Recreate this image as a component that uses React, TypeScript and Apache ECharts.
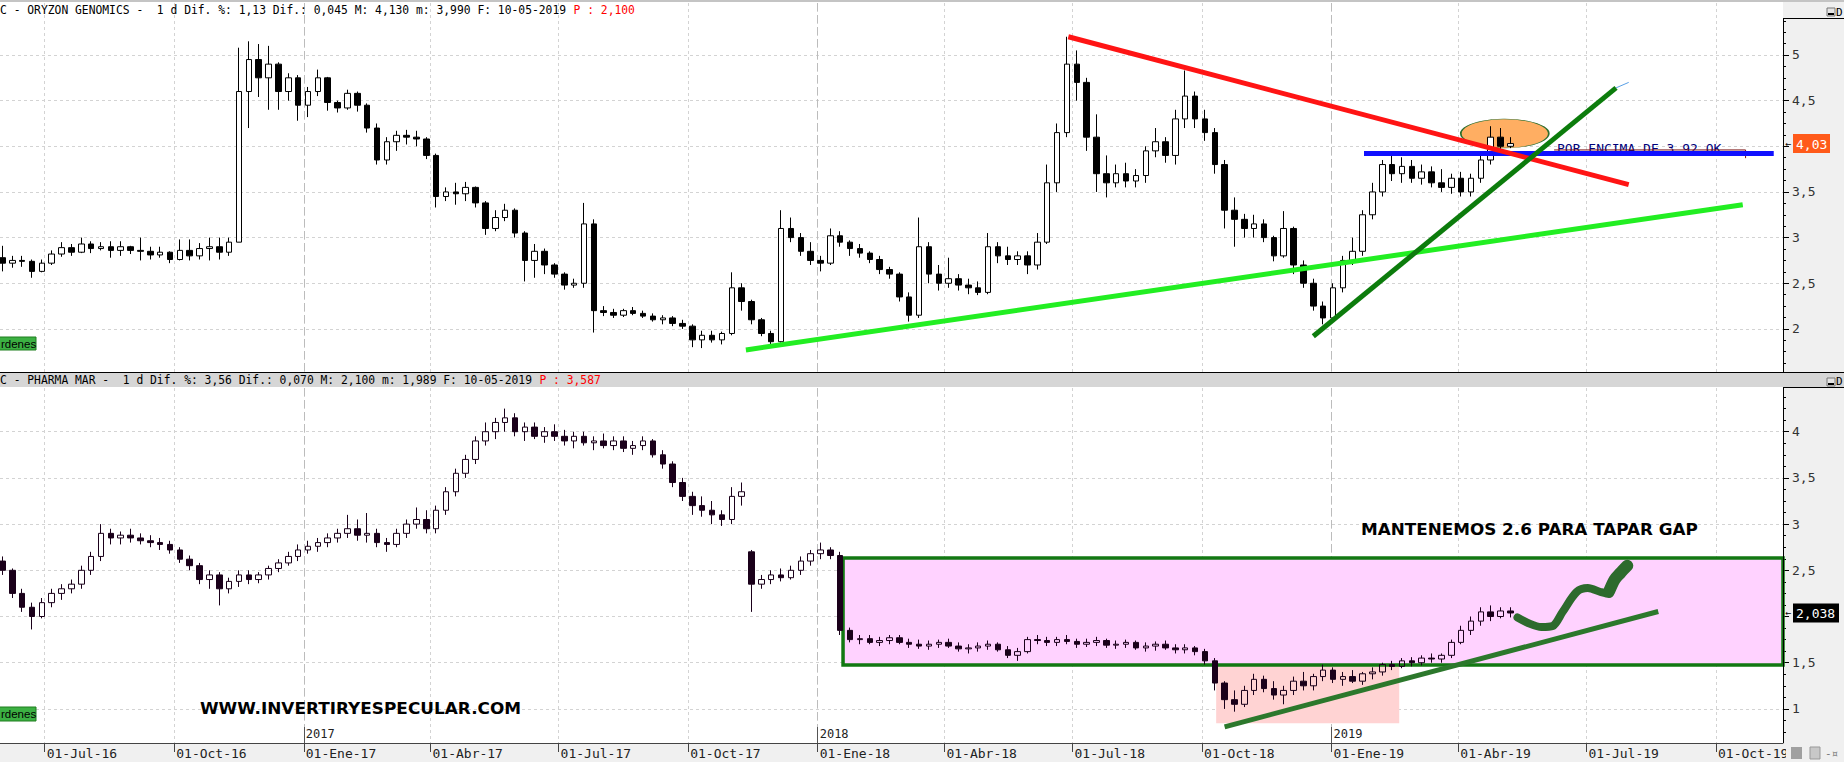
import React, { useEffect, useRef } from "react";
import * as echarts from "echarts";

// ---------------- data ----------------
// weekly candles, first one on Wednesday 2016-06-01, one per week
const WEEK_START = [2016, 6, 1];

// ORYZON GENOMICS weekly [open, high, low, close]
const ORYZON_OHLC: number[][] = [
  [2.78, 2.91, 2.63, 2.72], [2.72, 2.8, 2.67, 2.75], [2.75, 2.8, 2.68, 2.74], [2.74, 2.76, 2.56, 2.63],
  [2.63, 2.76, 2.62, 2.72], [2.72, 2.86, 2.7, 2.82], [2.82, 2.95, 2.79, 2.89], [2.89, 2.93, 2.8, 2.84],
  [2.84, 3.0, 2.83, 2.93], [2.93, 2.96, 2.83, 2.88], [2.88, 2.95, 2.86, 2.9], [2.9, 2.96, 2.78, 2.86],
  [2.86, 2.96, 2.8, 2.9], [2.9, 2.91, 2.82, 2.86], [2.86, 3.0, 2.75, 2.85], [2.85, 2.9, 2.76, 2.81],
  [2.81, 2.9, 2.78, 2.84], [2.84, 2.85, 2.72, 2.76], [2.76, 2.98, 2.75, 2.86], [2.86, 2.98, 2.75, 2.8],
  [2.8, 2.94, 2.76, 2.88], [2.88, 3.0, 2.75, 2.9], [2.9, 3.0, 2.76, 2.84], [2.84, 3.0, 2.8, 2.95],
  [2.95, 5.08, 2.95, 4.6], [4.6, 5.15, 4.2, 4.95], [4.95, 5.12, 4.54, 4.75], [4.75, 5.1, 4.4, 4.9],
  [4.9, 4.92, 4.4, 4.6], [4.6, 4.8, 4.5, 4.75], [4.75, 4.78, 4.28, 4.45], [4.45, 4.65, 4.32, 4.6],
  [4.6, 4.84, 4.55, 4.75], [4.75, 4.76, 4.39, 4.48], [4.48, 4.5, 4.37, 4.42], [4.42, 4.62, 4.4, 4.58],
  [4.58, 4.6, 4.38, 4.45], [4.45, 4.47, 4.15, 4.2], [4.2, 4.25, 3.8, 3.85], [3.85, 4.1, 3.8, 4.05],
  [4.05, 4.17, 3.95, 4.12], [4.12, 4.18, 4.02, 4.1], [4.1, 4.17, 4.0, 4.08], [4.08, 4.1, 3.86, 3.9],
  [3.9, 3.92, 3.33, 3.45], [3.45, 3.55, 3.4, 3.5], [3.5, 3.6, 3.36, 3.48], [3.48, 3.61, 3.4, 3.55],
  [3.55, 3.56, 3.33, 3.38], [3.38, 3.4, 3.03, 3.1], [3.1, 3.3, 3.07, 3.22], [3.22, 3.37, 3.18, 3.3],
  [3.3, 3.32, 3.0, 3.05], [3.05, 3.07, 2.52, 2.75], [2.75, 2.93, 2.56, 2.85], [2.85, 2.88, 2.6, 2.7],
  [2.7, 2.72, 2.56, 2.6], [2.6, 2.62, 2.43, 2.48], [2.48, 2.55, 2.45, 2.5], [2.5, 3.38, 2.45, 3.15],
  [3.15, 3.2, 1.96, 2.2], [2.2, 2.25, 2.14, 2.18], [2.18, 2.22, 2.12, 2.15], [2.15, 2.22, 2.13, 2.2],
  [2.2, 2.24, 2.15, 2.17], [2.17, 2.2, 2.12, 2.14], [2.14, 2.17, 2.08, 2.1], [2.1, 2.15, 2.05, 2.12],
  [2.12, 2.14, 2.03, 2.06], [2.06, 2.1, 2.0, 2.03], [2.03, 2.05, 1.8, 1.88], [1.88, 1.98, 1.79, 1.93],
  [1.93, 1.98, 1.85, 1.88], [1.88, 1.97, 1.83, 1.95], [1.95, 2.62, 1.93, 2.45], [2.45, 2.5, 2.2, 2.3],
  [2.3, 2.32, 2.05, 2.1], [2.1, 2.12, 1.92, 1.95], [1.95, 1.98, 1.83, 1.86], [1.86, 3.3, 1.85, 3.1],
  [3.1, 3.22, 2.95, 3.0], [3.0, 3.05, 2.8, 2.85], [2.85, 2.95, 2.7, 2.75], [2.75, 2.8, 2.63, 2.72],
  [2.72, 3.1, 2.7, 3.02], [3.02, 3.07, 2.9, 2.95], [2.95, 2.97, 2.8, 2.88], [2.88, 2.93, 2.78, 2.83],
  [2.83, 2.85, 2.72, 2.76], [2.76, 2.8, 2.6, 2.65], [2.65, 2.68, 2.55, 2.6], [2.6, 2.62, 2.3, 2.35],
  [2.35, 2.4, 2.08, 2.15], [2.15, 3.22, 2.12, 2.9], [2.9, 2.95, 2.5, 2.6], [2.6, 2.7, 2.42, 2.5],
  [2.5, 2.78, 2.45, 2.55], [2.55, 2.6, 2.42, 2.48], [2.48, 2.55, 2.38, 2.45], [2.45, 2.52, 2.37, 2.4],
  [2.4, 3.05, 2.38, 2.9], [2.9, 2.95, 2.72, 2.8], [2.8, 2.9, 2.7, 2.76], [2.76, 2.85, 2.7, 2.8],
  [2.8, 2.85, 2.6, 2.7], [2.7, 3.05, 2.65, 2.95], [2.95, 3.8, 2.93, 3.6], [3.6, 4.25, 3.5, 4.15],
  [4.15, 5.2, 4.1, 4.9], [4.9, 5.05, 4.5, 4.7], [4.7, 4.75, 3.95, 4.1], [4.1, 4.35, 3.5, 3.7],
  [3.7, 3.9, 3.44, 3.6], [3.6, 3.8, 3.55, 3.7], [3.7, 3.82, 3.55, 3.62], [3.62, 3.75, 3.55, 3.68],
  [3.68, 4.0, 3.6, 3.95], [3.95, 4.2, 3.88, 4.05], [4.05, 4.1, 3.82, 3.9], [3.9, 4.4, 3.8, 4.3],
  [4.3, 4.83, 4.2, 4.55], [4.55, 4.6, 4.2, 4.3], [4.3, 4.4, 4.06, 4.15], [4.15, 4.2, 3.7, 3.8],
  [3.8, 3.85, 3.1, 3.3], [3.3, 3.44, 2.9, 3.2], [3.2, 3.26, 3.0, 3.1], [3.1, 3.25, 3.0, 3.15],
  [3.15, 3.2, 2.95, 3.0], [3.0, 3.02, 2.74, 2.8], [2.8, 3.29, 2.78, 3.1], [3.1, 3.12, 2.6, 2.7],
  [2.7, 2.75, 2.45, 2.5], [2.5, 2.55, 2.2, 2.25], [2.25, 2.3, 2.05, 2.12], [2.12, 2.5, 2.1, 2.45],
  [2.45, 2.8, 2.4, 2.75], [2.75, 3.0, 2.7, 2.85], [2.85, 3.3, 2.8, 3.25], [3.25, 3.6, 3.2, 3.5],
  [3.5, 3.85, 3.45, 3.8], [3.8, 3.9, 3.62, 3.7], [3.7, 3.88, 3.6, 3.78], [3.78, 3.85, 3.6, 3.65],
  [3.65, 3.8, 3.58, 3.72], [3.72, 3.78, 3.55, 3.6], [3.6, 3.75, 3.5, 3.55], [3.55, 3.7, 3.48, 3.65],
  [3.65, 3.72, 3.45, 3.5], [3.5, 3.7, 3.45, 3.65], [3.65, 3.9, 3.6, 3.85], [3.85, 4.22, 3.8, 4.1],
  [4.1, 4.2, 3.95, 4.0], [4.0, 4.1, 3.98, 4.03],
];

// PHARMA MAR weekly [open, high, low, close]
const PHARMA_OHLC: number[][] = [
  [2.6, 2.65, 2.45, 2.5], [2.5, 2.52, 2.2, 2.25], [2.25, 2.3, 2.05, 2.1], [2.1, 2.15, 1.86, 2.0],
  [2.0, 2.2, 1.98, 2.15], [2.15, 2.3, 2.1, 2.25], [2.25, 2.35, 2.18, 2.3], [2.3, 2.4, 2.25, 2.35],
  [2.35, 2.55, 2.3, 2.5], [2.5, 2.7, 2.45, 2.65], [2.65, 3.0, 2.6, 2.9], [2.9, 2.95, 2.78, 2.85],
  [2.85, 2.92, 2.78, 2.88], [2.88, 2.95, 2.8, 2.85], [2.85, 2.9, 2.78, 2.82], [2.82, 2.88, 2.75, 2.8],
  [2.8, 2.85, 2.72, 2.78], [2.78, 2.82, 2.68, 2.72], [2.72, 2.75, 2.58, 2.62], [2.62, 2.66, 2.5, 2.55],
  [2.55, 2.58, 2.35, 2.4], [2.4, 2.5, 2.3, 2.45], [2.45, 2.48, 2.12, 2.3], [2.3, 2.42, 2.25, 2.38],
  [2.38, 2.5, 2.32, 2.45], [2.45, 2.5, 2.35, 2.4], [2.4, 2.48, 2.36, 2.45], [2.45, 2.55, 2.4, 2.52],
  [2.52, 2.62, 2.48, 2.58], [2.58, 2.7, 2.55, 2.65], [2.65, 2.78, 2.6, 2.72], [2.72, 2.82, 2.68, 2.76],
  [2.76, 2.85, 2.7, 2.8], [2.8, 2.9, 2.75, 2.85], [2.85, 2.95, 2.8, 2.9], [2.9, 3.1, 2.85, 2.95],
  [2.95, 3.05, 2.82, 2.88], [2.88, 3.12, 2.8, 2.9], [2.9, 2.95, 2.75, 2.8], [2.8, 2.85, 2.7, 2.78],
  [2.78, 2.95, 2.75, 2.9], [2.9, 3.05, 2.85, 3.0], [3.0, 3.18, 2.95, 3.05], [3.05, 3.15, 2.9, 2.95],
  [2.95, 3.2, 2.9, 3.15], [3.15, 3.4, 3.1, 3.35], [3.35, 3.6, 3.3, 3.55], [3.55, 3.75, 3.5, 3.7],
  [3.7, 3.95, 3.65, 3.9], [3.9, 4.1, 3.85, 4.0], [4.0, 4.15, 3.92, 4.1], [4.1, 4.25, 4.0, 4.15],
  [4.15, 4.2, 3.95, 4.0], [4.0, 4.1, 3.9, 4.05], [4.05, 4.1, 3.92, 3.95], [3.95, 4.05, 3.88, 4.0],
  [4.0, 4.08, 3.9, 3.95], [3.95, 4.02, 3.85, 3.9], [3.9, 4.0, 3.82, 3.95], [3.95, 4.0, 3.85, 3.88],
  [3.88, 3.95, 3.8, 3.9], [3.9, 3.98, 3.82, 3.85], [3.85, 3.95, 3.8, 3.9], [3.9, 3.95, 3.78, 3.82],
  [3.82, 3.9, 3.75, 3.85], [3.85, 3.95, 3.8, 3.9], [3.9, 3.92, 3.72, 3.75], [3.75, 3.8, 3.6, 3.65],
  [3.65, 3.68, 3.4, 3.45], [3.45, 3.5, 3.25, 3.3], [3.3, 3.35, 3.1, 3.2], [3.2, 3.3, 3.08, 3.15],
  [3.15, 3.25, 3.0, 3.1], [3.1, 3.15, 2.98, 3.05], [3.05, 3.4, 3.0, 3.3], [3.3, 3.45, 3.2, 3.35],
  [2.7, 2.72, 2.05, 2.35], [2.35, 2.45, 2.3, 2.4], [2.4, 2.5, 2.35, 2.45], [2.45, 2.52, 2.38, 2.42],
  [2.42, 2.55, 2.4, 2.5], [2.5, 2.65, 2.45, 2.6], [2.6, 2.72, 2.55, 2.68], [2.68, 2.8, 2.62, 2.72],
  [2.72, 2.75, 2.62, 2.66], [2.66, 2.7, 1.8, 1.85], [1.85, 1.88, 1.72, 1.75], [1.75, 1.8, 1.7, 1.76],
  [1.76, 1.8, 1.7, 1.72], [1.72, 1.78, 1.68, 1.74], [1.74, 1.8, 1.7, 1.77], [1.77, 1.8, 1.7, 1.72],
  [1.72, 1.76, 1.66, 1.7], [1.7, 1.75, 1.65, 1.68], [1.68, 1.74, 1.64, 1.7], [1.7, 1.75, 1.66, 1.72],
  [1.72, 1.76, 1.66, 1.68], [1.68, 1.72, 1.62, 1.65], [1.65, 1.7, 1.6, 1.66], [1.66, 1.72, 1.62, 1.68],
  [1.68, 1.74, 1.64, 1.7], [1.7, 1.72, 1.62, 1.64], [1.64, 1.68, 1.55, 1.58], [1.58, 1.66, 1.52, 1.62],
  [1.62, 1.78, 1.6, 1.75], [1.75, 1.8, 1.7, 1.74], [1.74, 1.78, 1.68, 1.72], [1.72, 1.78, 1.68, 1.75],
  [1.75, 1.8, 1.7, 1.73], [1.73, 1.76, 1.66, 1.7], [1.7, 1.76, 1.67, 1.72], [1.72, 1.78, 1.68, 1.74],
  [1.74, 1.76, 1.66, 1.69], [1.69, 1.74, 1.65, 1.7], [1.7, 1.75, 1.66, 1.72], [1.72, 1.74, 1.64, 1.66],
  [1.66, 1.72, 1.62, 1.68], [1.68, 1.73, 1.63, 1.7], [1.7, 1.74, 1.64, 1.66], [1.66, 1.7, 1.6, 1.64],
  [1.64, 1.7, 1.6, 1.66], [1.66, 1.68, 1.58, 1.62], [1.62, 1.65, 1.48, 1.52], [1.52, 1.55, 1.2, 1.28],
  [1.28, 1.3, 1.0, 1.1], [1.1, 1.2, 0.97, 1.05], [1.05, 1.25, 1.02, 1.2], [1.2, 1.38, 1.15, 1.32],
  [1.32, 1.36, 1.18, 1.22], [1.22, 1.3, 1.1, 1.15], [1.15, 1.25, 1.05, 1.2], [1.2, 1.35, 1.15, 1.3],
  [1.3, 1.4, 1.2, 1.25], [1.25, 1.38, 1.2, 1.35], [1.35, 1.48, 1.3, 1.42], [1.42, 1.45, 1.28, 1.32],
  [1.32, 1.4, 1.25, 1.35], [1.35, 1.42, 1.28, 1.3], [1.3, 1.4, 1.26, 1.38], [1.38, 1.45, 1.32, 1.4],
  [1.4, 1.5, 1.36, 1.48], [1.48, 1.52, 1.42, 1.46], [1.46, 1.55, 1.44, 1.52], [1.52, 1.56, 1.46, 1.5],
  [1.5, 1.58, 1.47, 1.55], [1.55, 1.6, 1.5, 1.54], [1.54, 1.6, 1.5, 1.58], [1.58, 1.75, 1.55, 1.72],
  [1.72, 1.9, 1.7, 1.85], [1.85, 2.0, 1.8, 1.95], [1.95, 2.1, 1.9, 2.05], [2.05, 2.12, 1.95, 2.0],
  [2.0, 2.1, 1.98, 2.06], [2.06, 2.1, 1.99, 2.038],
];

const ORYZON_LAST = 4.03;
const PHARMA_LAST = 2.038;

const QUARTER_DATES = [
  "2016-07-01", "2016-10-01", "2017-01-01", "2017-04-01", "2017-07-01", "2017-10-01", "2018-01-01",
  "2018-04-01", "2018-07-01", "2018-10-01", "2019-01-01", "2019-04-01", "2019-07-01", "2019-10-01",
];
const QUARTER_LABELS = [
  "01-Jul-16", "01-Oct-16", "01-Ene-17", "01-Abr-17", "01-Jul-17", "01-Oct-17", "01-Ene-18",
  "01-Abr-18", "01-Jul-18", "01-Oct-18", "01-Ene-19", "01-Abr-19", "01-Jul-19", "01-Oct-19",
];
const YEAR_DATES = ["2017-01-01", "2018-01-01", "2019-01-01"];
const YEAR_LABELS = ["2017", "2018", "2019"];
const TOP_Y_TICKS = [1.5, 2, 2.5, 3, 3.5, 4, 4.5, 5];
// "4" sits under the last-price tag in the reference, so it carries no label
const TOP_Y_LABELS = [2, 2.5, 3, 3.5, 4.5, 5];
const BOTTOM_Y_TICKS = [1, 1.5, 2, 2.5, 3, 3.5, 4];
// "2" sits under the last-price tag in the reference
const BOTTOM_Y_LABELS = [1, 1.5, 2.5, 3, 3.5, 4];

const TOP_HEADER = "C - ORYZON GENOMICS -  1 d Dif. %: 1,13 Dif.: 0,045 M: 4,130 m: 3,990 F: 10-05-2019 ";
const TOP_HEADER_P = "P : 2,100";
const BOTTOM_HEADER = "C - PHARMA MAR -  1 d Dif. %: 3,56 Dif.: 0,070 M: 2,100 m: 1,989 F: 10-05-2019 ";
const BOTTOM_HEADER_P = "P : 3,587";

// drawn annotations (date, price)
const RED_TREND: [string, number][] = [["2018-06-28", 5.2], ["2019-07-31", 3.58]];
const LIME_TREND: [string, number][] = [["2017-11-11", 1.77], ["2019-10-20", 3.36]];
const DARK_TREND: [string, number][] = [["2018-12-19", 1.92], ["2019-07-22", 4.64]];
const DARK_TAIL: [string, number][] = [["2019-07-22", 4.64], ["2019-07-31", 4.7]];
const BLUE_LEVEL: [string, number][] = [["2019-01-24", 3.92], ["2019-11-11", 3.92]];
const NOTE_BOX: [string, number][] = [["2019-06-08", 3.96], ["2019-10-22", 3.96], ["2019-10-22", 3.87]];
const ELLIPSE_AT: [string, number] = ["2019-05-04", 4.14];

const PINK_BOX_FROM: [string, number] = ["2018-01-19", 2.633];
const PINK_BOX_LOW = 1.475;
const SALMON_BOX: [string, number][] = [["2018-10-11", 1.475], ["2019-02-18", 0.844]];
const BOTTOM_TREND: [string, number][] = [["2018-10-17", 0.806], ["2019-08-21", 2.054]];
const SQUIGGLE: [string, number][] = [
  ["2019-05-13", 1.99], ["2019-05-22", 1.92], ["2019-05-30", 1.886], ["2019-06-07", 1.897],
  ["2019-06-14", 2.049], ["2019-06-24", 2.265], ["2019-07-02", 2.308], ["2019-07-11", 2.265],
  ["2019-07-17", 2.243], ["2019-07-19", 2.362], ["2019-07-25", 2.449], ["2019-07-30", 2.546],
];
const SQUIGGLE_HEAD: [string, number][] = [["2019-07-17", 2.27], ["2019-07-21", 2.4], ["2019-07-25", 2.47], ["2019-07-30", 2.55]];

const NOTE_TEXT = "POR ENCIMA DE 3.92 OK";
const GAP_TEXT = "MANTENEMOS 2.6 PARA TAPAR GAP";
const SITE_TEXT = "WWW.INVERTIRYESPECULAR.COM";

// ---------------- helpers ----------------
const toTime = (s: string) => {
  const [y, m, d] = s.split("-").map(Number);
  return new Date(y, m - 1, d).getTime();
};
const weekTime = (k: number) => new Date(WEEK_START[0], WEEK_START[1] - 1, WEEK_START[2] + 7 * k).getTime();
const X_MIN = new Date(2016, 4, 30, 6).getTime();
const X_MAX = new Date(2019, 10, 17, 14).getTime();
const QT = QUARTER_DATES.map(toTime);
const YT = YEAR_DATES.map(toTime);
const comma = (v: number) => String(v).replace(".", ",");
const MONO = "DejaVu Sans Mono";
const pts = (a: [string, number][]) => a.map(([d, v]) => [toTime(d), v]);
const nearest = (list: number[], v: number) => {
  let best = -1, bd = Infinity;
  list.forEach((t, i) => { const d = Math.abs(t - v); if (d < bd) { bd = d; best = i; } });
  return bd < 36e5 * 12 ? best : -1;
};

const candles = (rows: number[][]) => rows.map((r, k) => [weekTime(k), r[0], r[3], r[2], r[1]]);

const line = (data: [string, number][], color: string, width: number, grid: number, z: number, extra: any = {}) => ({
  type: "line",
  xAxisIndex: grid === 0 ? 0 : 2,
  yAxisIndex: grid,
  data: pts(data),
  symbol: "none",
  silent: true,
  z,
  lineStyle: { color, width, cap: "butt", join: "round" },
  ...extra,
});

const gridX = (gridIndex: number) => ({ type: "value", gridIndex, min: X_MIN, max: X_MAX, position: "bottom", scale: true });
const dashed = { color: "#d3d3d3", type: [3, 3], width: 1 };
const yearDashed = { color: "#bcbcbc", type: [8, 4], width: 1 };

const yAxis = (gridIndex: number, min: number, max: number, ticks: number[], labels: number[]) => ({
  type: "value",
  gridIndex,
  position: "right",
  min,
  max,
  splitNumber: 8,
  axisLine: { show: false },
  axisTick: { show: true, customValues: ticks, length: 6, lineStyle: { color: "#000" } },
  minorTick: { show: true, splitNumber: 4, length: 3, lineStyle: { color: "#000" } },
  axisLabel: { customValues: labels, formatter: (v: number) => comma(v), margin: 9, fontFamily: MONO, fontSize: 13, color: "#333" },
  splitLine: { show: true, lineStyle: dashed },
});

const HEAD_X = 0;
const baseGraphic: any[] = [
  { type: "line", z: 20, silent: true, shape: { x1: 0, y1: 372.5, x2: 1844, y2: 372.5 }, style: { stroke: "#000", lineWidth: 1 } },
  { type: "line", z: 20, silent: true, shape: { x1: 1783.5, y1: 18, x2: 1783.5, y2: 372 }, style: { stroke: "#000", lineWidth: 1 } },
  { type: "line", z: 20, silent: true, shape: { x1: 1783.5, y1: 387, x2: 1783.5, y2: 743 }, style: { stroke: "#000", lineWidth: 1 } },
  { type: "line", z: 20, silent: true, shape: { x1: 1783, y1: 18.5, x2: 1844, y2: 18.5 }, style: { stroke: "#000", lineWidth: 1 } },
  { type: "line", z: 20, silent: true, shape: { x1: 1783, y1: 387.5, x2: 1844, y2: 387.5 }, style: { stroke: "#000", lineWidth: 1 } },
  { type: "text", z: 20, silent: true, x: HEAD_X, y: 10, scaleX: 0.872, style: { text: TOP_HEADER, fill: "#000", fontFamily: MONO, fontSize: 13, verticalAlign: "middle" } },
  { type: "text", z: 20, silent: true, x: HEAD_X + TOP_HEADER.length * 7.83 * 0.872, y: 10, scaleX: 0.872, style: { text: TOP_HEADER_P, fill: "#ff0000", fontFamily: MONO, fontSize: 13, verticalAlign: "middle" } },
  { type: "text", z: 20, silent: true, x: HEAD_X, y: 380, scaleX: 0.872, style: { text: BOTTOM_HEADER, fill: "#000", fontFamily: MONO, fontSize: 13, verticalAlign: "middle" } },
  { type: "text", z: 20, silent: true, x: HEAD_X + BOTTOM_HEADER.length * 7.83 * 0.872, y: 380, scaleX: 0.872, style: { text: BOTTOM_HEADER_P, fill: "#ff0000", fontFamily: MONO, fontSize: 13, verticalAlign: "middle" } },
  { type: "rect", z: 20, silent: true, shape: { x: -1, y: 337, width: 37, height: 13 }, style: { fill: "#3cb043", stroke: "#1f7f1f", lineWidth: 1 } },
  { type: "text", z: 21, silent: true, x: 1, y: 343.5, style: { text: "rdenes", fill: "#000", fontFamily: "Liberation Sans", fontSize: 11.5, verticalAlign: "middle" } },
  { type: "rect", z: 20, silent: true, shape: { x: -1, y: 707, width: 37, height: 14 }, style: { fill: "#3cb043", stroke: "#1f7f1f", lineWidth: 1 } },
  { type: "text", z: 21, silent: true, x: 1, y: 714, style: { text: "rdenes", fill: "#000", fontFamily: "Liberation Sans", fontSize: 11.5, verticalAlign: "middle" } },
  { type: "rect", z: 20, silent: true, shape: { x: 1827, y: 8, width: 8, height: 8 }, style: { fill: "#e4e4e4", stroke: "#777", lineWidth: 1 } },
  { type: "line", z: 21, silent: true, shape: { x1: 1828, y1: 14, x2: 1834, y2: 14 }, style: { stroke: "#000", lineWidth: 2 } },
  { type: "text", z: 21, silent: true, x: 1836, y: 12, style: { text: "D", fill: "#000", fontFamily: MONO, fontSize: 11, verticalAlign: "middle" } },
  { type: "rect", z: 20, silent: true, shape: { x: 1827, y: 378, width: 8, height: 8 }, style: { fill: "#e4e4e4", stroke: "#777", lineWidth: 1 } },
  { type: "line", z: 21, silent: true, shape: { x1: 1828, y1: 384, x2: 1834, y2: 384 }, style: { stroke: "#000", lineWidth: 2 } },
  { type: "text", z: 21, silent: true, x: 1836, y: 381, style: { text: "D", fill: "#000", fontFamily: MONO, fontSize: 11, verticalAlign: "middle" } },
  { type: "rect", z: 20, silent: true, shape: { x: 1786, y: 744, width: 58, height: 18 }, style: { fill: "#f0f0f0" } },
  { type: "rect", z: 21, silent: true, shape: { x: 1791, y: 747, width: 11, height: 12 }, style: { fill: "#a0a0a0" } },
  { type: "rect", z: 21, silent: true, shape: { x: 1810, y: 747, width: 10, height: 12 }, style: { fill: "#c8c8c8", stroke: "#999", lineWidth: 1 } },
  { type: "text", z: 21, silent: true, x: 1825, y: 753, style: { text: "-¤", fill: "#777", fontFamily: MONO, fontSize: 11, verticalAlign: "middle" } },
  { type: "text", z: 2, silent: true, x: 1557, y: 148, style: { text: NOTE_TEXT, fill: "#00007a", fontFamily: MONO, fontSize: 13, verticalAlign: "middle" } },
  { type: "text", z: 8, silent: true, x: 1361, y: 530, scaleX: 1.05, style: { text: GAP_TEXT, fill: "#000", fontFamily: "DejaVu Sans", fontWeight: "bold", fontSize: 16, verticalAlign: "middle" } },
  { type: "text", z: 8, silent: true, x: 200, y: 709, scaleX: 1.09, style: { text: SITE_TEXT, fill: "#000", fontFamily: "DejaVu Sans", fontWeight: "bold", fontSize: 15.5, verticalAlign: "middle" } },
];

// last-price tag on the right axis, placed at the pixel the axis gives for the value
const priceTag = (y: number, text: string, bg: string, boxWidth: number) => [
  { type: "text", z: 30, silent: true, x: 1785, y, style: { text: "←", fill: "#000", fontFamily: MONO, fontSize: 10, verticalAlign: "middle" } },
  { type: "rect", z: 30, silent: true, shape: { x: 1793, y: y - 9.5, width: boxWidth, height: 19 }, style: { fill: bg } },
  { type: "text", z: 31, silent: true, x: 1796, y: y + 0.5, style: { text, fill: "#fff", fontFamily: MONO, fontSize: 13, verticalAlign: "middle" } },
];

const option: any = {
  animation: false,
  backgroundColor: "transparent",
  grid: [
    { left: 0, right: 61, top: 3, height: 369 },
    { left: 0, right: 61, top: 388, height: 355 },
  ],
  xAxis: [
    { ...gridX(0), axisLine: { show: false }, axisTick: { show: false, customValues: QT }, axisLabel: { show: false, customValues: QT }, splitLine: { show: true, lineStyle: dashed } },
    { ...gridX(0), axisLine: { show: false }, axisTick: { show: false, customValues: YT }, axisLabel: { show: false, customValues: YT }, splitLine: { show: true, lineStyle: yearDashed } },
    {
      ...gridX(1),
      axisLine: { show: true, lineStyle: { color: "#444", width: 1 } },
      axisTick: { show: true, customValues: QT, length: 9, lineStyle: { color: "#444" } },
      axisLabel: {
        show: true, customValues: QT, align: "left", margin: 4, padding: [0, 0, 0, 2],
        fontFamily: MONO, fontSize: 13, color: "#222",
        formatter: (v: number) => { const i = nearest(QT, v); return i >= 0 ? QUARTER_LABELS[i] : ""; },
      },
      splitLine: { show: true, lineStyle: dashed },
    },
    {
      ...gridX(1),
      axisLine: { show: false },
      axisTick: { show: true, inside: true, customValues: YT, length: 16, lineStyle: { color: "#555" } },
      axisLabel: {
        show: true, inside: true, customValues: YT, align: "left", margin: 3, padding: [0, 0, 0, 2],
        fontFamily: MONO, fontSize: 12, color: "#222",
        formatter: (v: number) => { const i = nearest(YT, v); return i >= 0 ? YEAR_LABELS[i] : ""; },
      },
      splitLine: { show: true, lineStyle: yearDashed },
    },
  ],
  yAxis: [
    yAxis(0, 1.528, 5.5695, TOP_Y_TICKS, TOP_Y_LABELS),
    yAxis(1, 0.631, 4.473, BOTTOM_Y_TICKS, BOTTOM_Y_LABELS),
  ],
  series: [
    {
      type: "scatter", xAxisIndex: 0, yAxisIndex: 0, silent: true, z: 1,
      data: [[toTime(ELLIPSE_AT[0]), ELLIPSE_AT[1]]],
      symbol: "circle", symbolSize: [88, 29],
      itemStyle: { color: "#ffae62", borderColor: "#2d6e2d", borderWidth: 1, opacity: 1 },
    },
    {
      type: "candlestick", name: "ORYZON", xAxisIndex: 0, yAxisIndex: 0, z: 2,
      encode: { x: 0, y: [1, 2, 3, 4] },
      data: candles(ORYZON_OHLC), barWidth: 6,
      itemStyle: { color: "#ffffff", color0: "#000000", borderColor: "#000000", borderColor0: "#000000", borderWidth: 1 },
    },
    {
      type: "candlestick", name: "PHARMA", xAxisIndex: 2, yAxisIndex: 1, z: 2,
      encode: { x: 0, y: [1, 2, 3, 4] },
      data: candles(PHARMA_OHLC), barWidth: 6,
      itemStyle: { color: "rgba(255,255,255,0)", color0: "#1a001a", borderColor: "#1a001a", borderColor0: "#1a001a", borderWidth: 1 },
      markArea: {
        silent: true,
        label: { show: false },
        data: [
          [
            { coord: [toTime(SALMON_BOX[0][0]), SALMON_BOX[0][1]], itemStyle: { color: "#ffd3d3", borderWidth: 0 } },
            { coord: [toTime(SALMON_BOX[1][0]), SALMON_BOX[1][1]] },
          ],
          [
            { coord: [toTime(PINK_BOX_FROM[0]), PINK_BOX_FROM[1]], itemStyle: { color: "#ffd2ff", borderColor: "#127812", borderWidth: 3.5 } },
            { coord: [X_MAX, PINK_BOX_LOW] },
          ],
        ],
      },
    },
    line(NOTE_BOX, "#7a1010", 1, 0, 3),
    line(LIME_TREND, "#22ee22", 5, 0, 4),
    line(BLUE_LEVEL, "#1010ff", 5, 0, 5),
    line(RED_TREND, "#ff1414", 5, 0, 6),
    line(DARK_TREND, "#0c7c0c", 5, 0, 7),
    line(DARK_TAIL, "#5aa0e6", 1, 0, 7),
    line(BOTTOM_TREND, "#2c782c", 5, 1, 5),
    line(SQUIGGLE, "#2d6a2d", 8, 1, 6, { smooth: 0.3, lineStyle: { color: "#2d6a2d", width: 8, cap: "round", join: "round" } }),
    line(SQUIGGLE_HEAD, "#2d6a2d", 12, 1, 6, { smooth: 0.3, lineStyle: { color: "#2d6a2d", width: 12, cap: "round", join: "round" } }),
  ],
  graphic: baseGraphic,
};

export default function App() {
  const ref = useRef<HTMLDivElement>(null);
  useEffect(() => {
    const chart = echarts.init(ref.current!, null, { renderer: "svg" });
    chart.setOption(option);
    const yTop = chart.convertToPixel({ yAxisIndex: 0 }, ORYZON_LAST) as number;
    const yBottom = chart.convertToPixel({ yAxisIndex: 1 }, PHARMA_LAST) as number;
    chart.setOption({
      graphic: [
        ...baseGraphic,
        ...priceTag(yTop, comma(ORYZON_LAST), "#ff5a1a", 37),
        ...priceTag(yBottom, comma(PHARMA_LAST), "#000000", 46),
      ],
    });
    return () => chart.dispose();
  }, []);
  return (
    <div
      ref={ref}
      style={{
        position: "fixed",
        left: 0,
        top: 0,
        width: 1844,
        height: 762,
        background:
          "linear-gradient(to bottom, #c4c4c4 0px, #c4c4c4 2px, transparent 2px, transparent 373px, #d6d6d6 373px, #d6d6d6 387px, transparent 387px, transparent 743px, #f0f0f0 743px), linear-gradient(to right, #ffffff 0px, #ffffff 1783px, #f0f0f0 1783px)",
      }}
    />
  );
}
